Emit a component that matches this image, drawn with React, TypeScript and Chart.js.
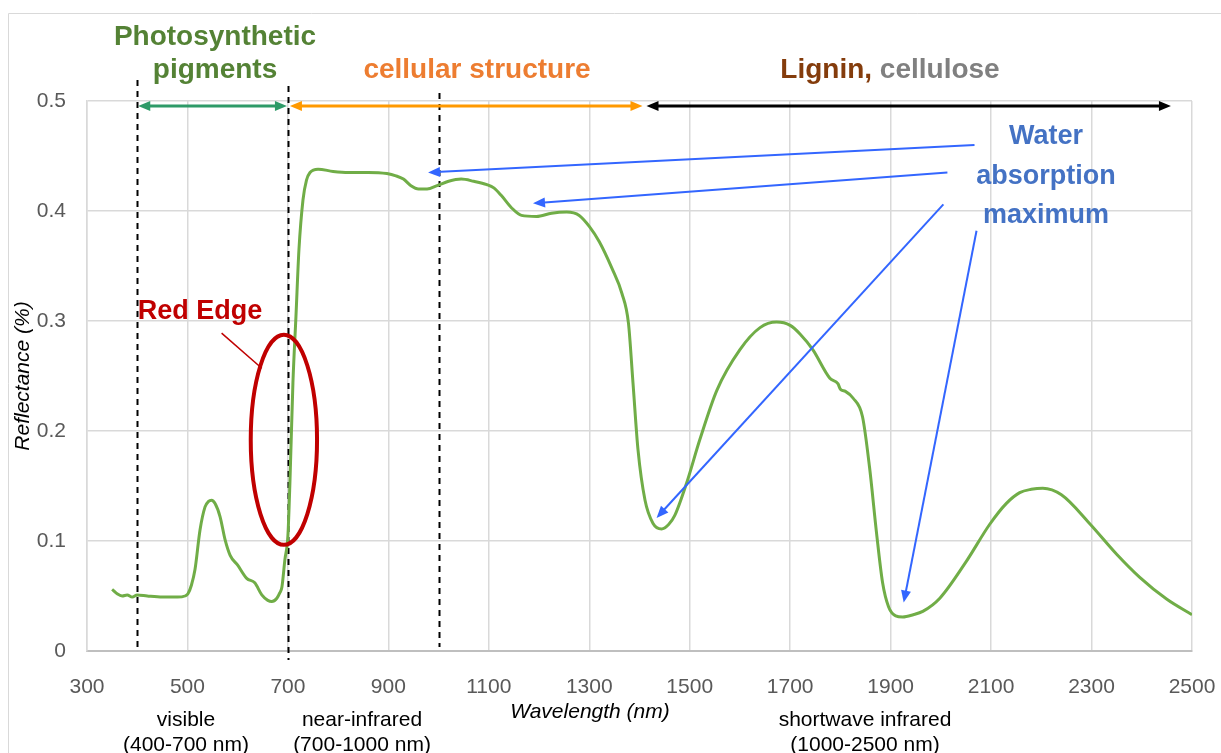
import React, { useEffect, useRef } from "react";
import { Chart, registerables } from "chart.js";

Chart.register(...registerables);

const wavelengths = [
  350, 360, 370, 380, 390, 400, 420, 450, 480, 495, 501, 508, 515, 525, 535, 542, 548, 555, 565, 575, 585,
  600, 618, 634, 648, 660, 668, 678, 684, 688, 694, 700, 704, 710, 716, 722, 730, 737, 744, 760, 790, 820, 860,
  897, 915, 930, 945, 960, 977, 997, 1020, 1045, 1070, 1096, 1110, 1125, 1145, 1165, 1195, 1225, 1255,
  1280, 1300, 1320, 1345, 1365, 1378, 1387, 1397, 1411, 1427, 1444, 1458, 1470, 1494, 1520, 1554, 1600,
  1640, 1673, 1700, 1720, 1745, 1779, 1795, 1800, 1810, 1825, 1844, 1858, 1872, 1884, 1896, 1910, 1924,
  1945, 1964, 1998, 2050, 2097, 2130, 2157, 2180, 2203, 2240, 2296, 2350, 2396, 2450, 2500,
];
const reflectance = [
  0.056, 0.052, 0.05, 0.051, 0.049, 0.051, 0.05, 0.049, 0.049, 0.05, 0.052, 0.06, 0.074, 0.11, 0.131, 0.136,
  0.137, 0.134, 0.122, 0.101, 0.087, 0.078, 0.066, 0.062, 0.051, 0.046, 0.045, 0.048, 0.053, 0.058, 0.083,
  0.105, 0.153, 0.244, 0.304, 0.365, 0.41, 0.428, 0.435, 0.438, 0.436, 0.435, 0.435, 0.434, 0.432, 0.429,
  0.423, 0.42, 0.42, 0.423, 0.427, 0.429, 0.427, 0.424, 0.421, 0.414, 0.403, 0.396, 0.395, 0.398, 0.399,
  0.396, 0.386, 0.372, 0.348, 0.325, 0.298, 0.244, 0.183, 0.137, 0.116, 0.111, 0.115, 0.123, 0.153, 0.192,
  0.237, 0.274, 0.294, 0.299, 0.296, 0.288, 0.274, 0.248, 0.243, 0.238, 0.236, 0.23, 0.213, 0.167, 0.107,
  0.062, 0.04, 0.032, 0.031, 0.033, 0.036, 0.048, 0.081, 0.115, 0.134, 0.144, 0.147, 0.148, 0.142, 0.116,
  0.088, 0.067, 0.047, 0.033,
];

const xMin = 300;
const xMax = 2500;
const xStep = 200;
const yMin = 0;
const yMax = 0.5;
const yStep = 0.1;

const dashedLines = [400, 700, 1000];
// region arrows [from nm, to nm, color]
const regionArrows: [number, number, string][] = [
  [400, 700, "#2E9A68"],
  [702, 1408, "#FF9900"],
  [1412, 2460, "#000000"],
];
// blue arrows: [tailNm, tailR, headNm, headR]
const waterArrows: [number, number, number, number][] = [
  [2067, 0.46, 979, 0.435],
  [2013, 0.435, 1188, 0.407],
  [2005, 0.406, 1434, 0.121],
  [2071, 0.382, 1926, 0.044],
];
// red edge ellipse: center nm, center refl, half width nm, half height refl
const redEdgeEllipse = [692, 0.192, 66, 0.0955];
const redEdgeLeader = [568, 0.289, 648, 0.257];

const FONT = "'Liberation Sans', Arial, sans-serif";

function arrowHead(ctx: CanvasRenderingContext2D, x1: number, y1: number, x2: number, y2: number, len: number, w: number, color: string) {
  const a = Math.atan2(y2 - y1, x2 - x1);
  ctx.save();
  ctx.fillStyle = color;
  ctx.beginPath();
  ctx.moveTo(x2, y2);
  ctx.lineTo(x2 - len * Math.cos(a) + w * Math.sin(a), y2 - len * Math.sin(a) - w * Math.cos(a));
  ctx.lineTo(x2 - len * Math.cos(a) - w * Math.sin(a), y2 - len * Math.sin(a) + w * Math.cos(a));
  ctx.closePath();
  ctx.fill();
  ctx.restore();
}

const overlay = {
  id: "overlay",
  beforeDatasetsDraw(chart: any) {
    const ctx: CanvasRenderingContext2D = chart.ctx;
    const xs = chart.scales.x;
    ctx.save();
    ctx.strokeStyle = "#000";
    ctx.lineWidth = 2;
    ctx.setLineDash([6, 5]);
    const tops = [80, 86, 93];
    const bottoms = [647, 660, 647];
    dashedLines.forEach((v, i) => {
      const x = Math.round(xs.getPixelForValue(v)) + 0.5;
      ctx.beginPath();
      ctx.moveTo(x, tops[i]);
      ctx.lineTo(x, bottoms[i]);
      ctx.stroke();
    });
    ctx.restore();
  },
  afterDraw(chart: any) {
    const ctx: CanvasRenderingContext2D = chart.ctx;
    const xs = chart.scales.x;
    const ys = chart.scales.y;
    const px = (v: number) => xs.getPixelForValue(v);
    const py = (v: number) => ys.getPixelForValue(v);
    ctx.save();

    // outer chart border
    ctx.strokeStyle = "#D9D9D9";
    ctx.lineWidth = 1;
    ctx.beginPath();
    ctx.moveTo(8.5, 753);
    ctx.lineTo(8.5, 13.5);
    ctx.lineTo(1221, 13.5);
    ctx.stroke();

    // region arrows
    const ay = py(yMax) + 5;
    regionArrows.forEach(([a, b, c]) => {
      const x1 = px(a) + 1;
      const x2 = px(b) - 1;
      ctx.strokeStyle = c;
      ctx.lineWidth = 3;
      ctx.beginPath();
      ctx.moveTo(x1 + 8, ay);
      ctx.lineTo(x2 - 8, ay);
      ctx.stroke();
      arrowHead(ctx, x2, ay, x1, ay, 12, 5, c);
      arrowHead(ctx, x1, ay, x2, ay, 12, 5, c);
    });

    // header texts
    ctx.textAlign = "center";
    ctx.textBaseline = "middle";
    ctx.font = `bold 28px ${FONT}`;
    ctx.fillStyle = "#548235";
    ctx.fillText("Photosynthetic", 215, 37);
    ctx.fillText("pigments", 215, 70);
    ctx.fillStyle = "#ED7D31";
    ctx.fillText("cellular structure", 477, 70);
    const t1 = "Lignin,";
    const t2 = " cellulose";
    const w1 = ctx.measureText(t1).width;
    const w2 = ctx.measureText(t2).width;
    const sx = 890 - (w1 + w2) / 2;
    ctx.textAlign = "left";
    ctx.fillStyle = "#843C0C";
    ctx.fillText(t1, sx, 70);
    ctx.fillStyle = "#808080";
    ctx.fillText(t2, sx + w1, 70);

    // water absorption
    ctx.textAlign = "center";
    ctx.font = `bold 27px ${FONT}`;
    ctx.fillStyle = "#4472C4";
    ctx.fillText("Water", 1046, 137);
    ctx.fillText("absorption", 1046, 177);
    ctx.fillText("maximum", 1046, 216);

    ctx.strokeStyle = "#3366FF";
    ctx.lineWidth = 2;
    waterArrows.forEach(([a, b, c, d]) => {
      const x1 = px(a), y1 = py(b), x2 = px(c), y2 = py(d);
      const ang = Math.atan2(y2 - y1, x2 - x1);
      ctx.beginPath();
      ctx.moveTo(x1, y1);
      ctx.lineTo(x2 - 8 * Math.cos(ang), y2 - 8 * Math.sin(ang));
      ctx.stroke();
      arrowHead(ctx, x1, y1, x2, y2, 12, 5, "#3366FF");
    });

    // red edge
    ctx.fillStyle = "#C00000";
    ctx.fillText("Red Edge", 200, 312);
    ctx.strokeStyle = "#C00000";
    ctx.lineWidth = 1.5;
    ctx.beginPath();
    ctx.moveTo(px(redEdgeLeader[0]), py(redEdgeLeader[1]));
    ctx.lineTo(px(redEdgeLeader[2]), py(redEdgeLeader[3]));
    ctx.stroke();
    const cx = px(redEdgeEllipse[0]);
    const cy = py(redEdgeEllipse[1]);
    const rx = px(redEdgeEllipse[0] + redEdgeEllipse[2]) - cx;
    const ry = cy - py(redEdgeEllipse[1] + redEdgeEllipse[3]);
    ctx.lineWidth = 4;
    ctx.beginPath();
    ctx.ellipse(cx, cy, rx, ry, 0, 0, Math.PI * 2);
    ctx.stroke();

    // axis titles
    ctx.fillStyle = "#000";
    ctx.font = `italic 21px ${FONT}`;
    ctx.fillText("Wavelength (nm)", 590, 712);
    ctx.save();
    ctx.translate(23, 376);
    ctx.rotate(-Math.PI / 2);
    ctx.fillText("Reflectance (%)", 0, 0);
    ctx.restore();

    // region labels
    ctx.font = `21px ${FONT}`;
    ctx.fillText("visible", 186, 720);
    ctx.fillText("(400-700 nm)", 186, 745);
    ctx.fillText("near-infrared", 362, 720);
    ctx.fillText("(700-1000 nm)", 362, 745);
    ctx.fillText("shortwave infrared", 865, 720);
    ctx.fillText("(1000-2500 nm)", 865, 745);

    ctx.restore();
  },
};

export default function App() {
  const ref = useRef<HTMLCanvasElement>(null);
  useEffect(() => {
    if (!ref.current) return;
    const chart = new Chart(ref.current, {
      type: "line",
      data: {
        datasets: [
          {
            data: wavelengths.map((w, i) => ({ x: w, y: reflectance[i] })),
            borderColor: "#70AD47",
            borderWidth: 3,
            pointRadius: 0,
            cubicInterpolationMode: "monotone",
            fill: false,
          },
        ],
      },
      options: {
        animation: false,
        responsive: false,
        maintainAspectRatio: false,
        layout: { padding: { left: 0, top: 101, right: 29, bottom: 0 } },
        plugins: { legend: { display: false }, tooltip: { enabled: false }, title: { display: false } },
        scales: {
          x: {
            type: "linear",
            min: xMin,
            max: xMax,
            ticks: {
              stepSize: xStep,
              color: "#595959",
              font: { family: FONT, size: 21 },
              padding: 24,
              maxRotation: 0,
              callback: (v: any) => String(v),
            },
            grid: { color: "#D9D9D9", lineWidth: 1.5, drawTicks: false },
            border: { color: "#BFBFBF", width: 2 },
            afterFit: (s: any) => {
              s.height = 102;
              s.paddingLeft = 0;
              s.paddingRight = 0;
            },
          },
          y: {
            type: "linear",
            min: yMin,
            max: yMax,
            ticks: {
              stepSize: yStep,
              color: "#595959",
              font: { family: FONT, size: 21 },
              padding: 21,
              callback: (v: any) => String(Math.round(v * 10) / 10),
            },
            grid: { color: "#D9D9D9", lineWidth: 1.5, drawTicks: false },
            border: { color: "#D9D9D9", width: 1.5 },
            afterFit: (s: any) => {
              s.width = 87;
              s.paddingTop = 0;
              s.paddingBottom = 0;
            },
          },
        },
      },
      plugins: [overlay],
    } as any);
    return () => chart.destroy();
  }, []);
  return (
    <div style={{ position: "absolute", left: 0, top: 0, width: 1221, height: 753, background: "#fff" }}>
      <canvas ref={ref} width={1221} height={753} style={{ display: "block" }} />
    </div>
  );
}
